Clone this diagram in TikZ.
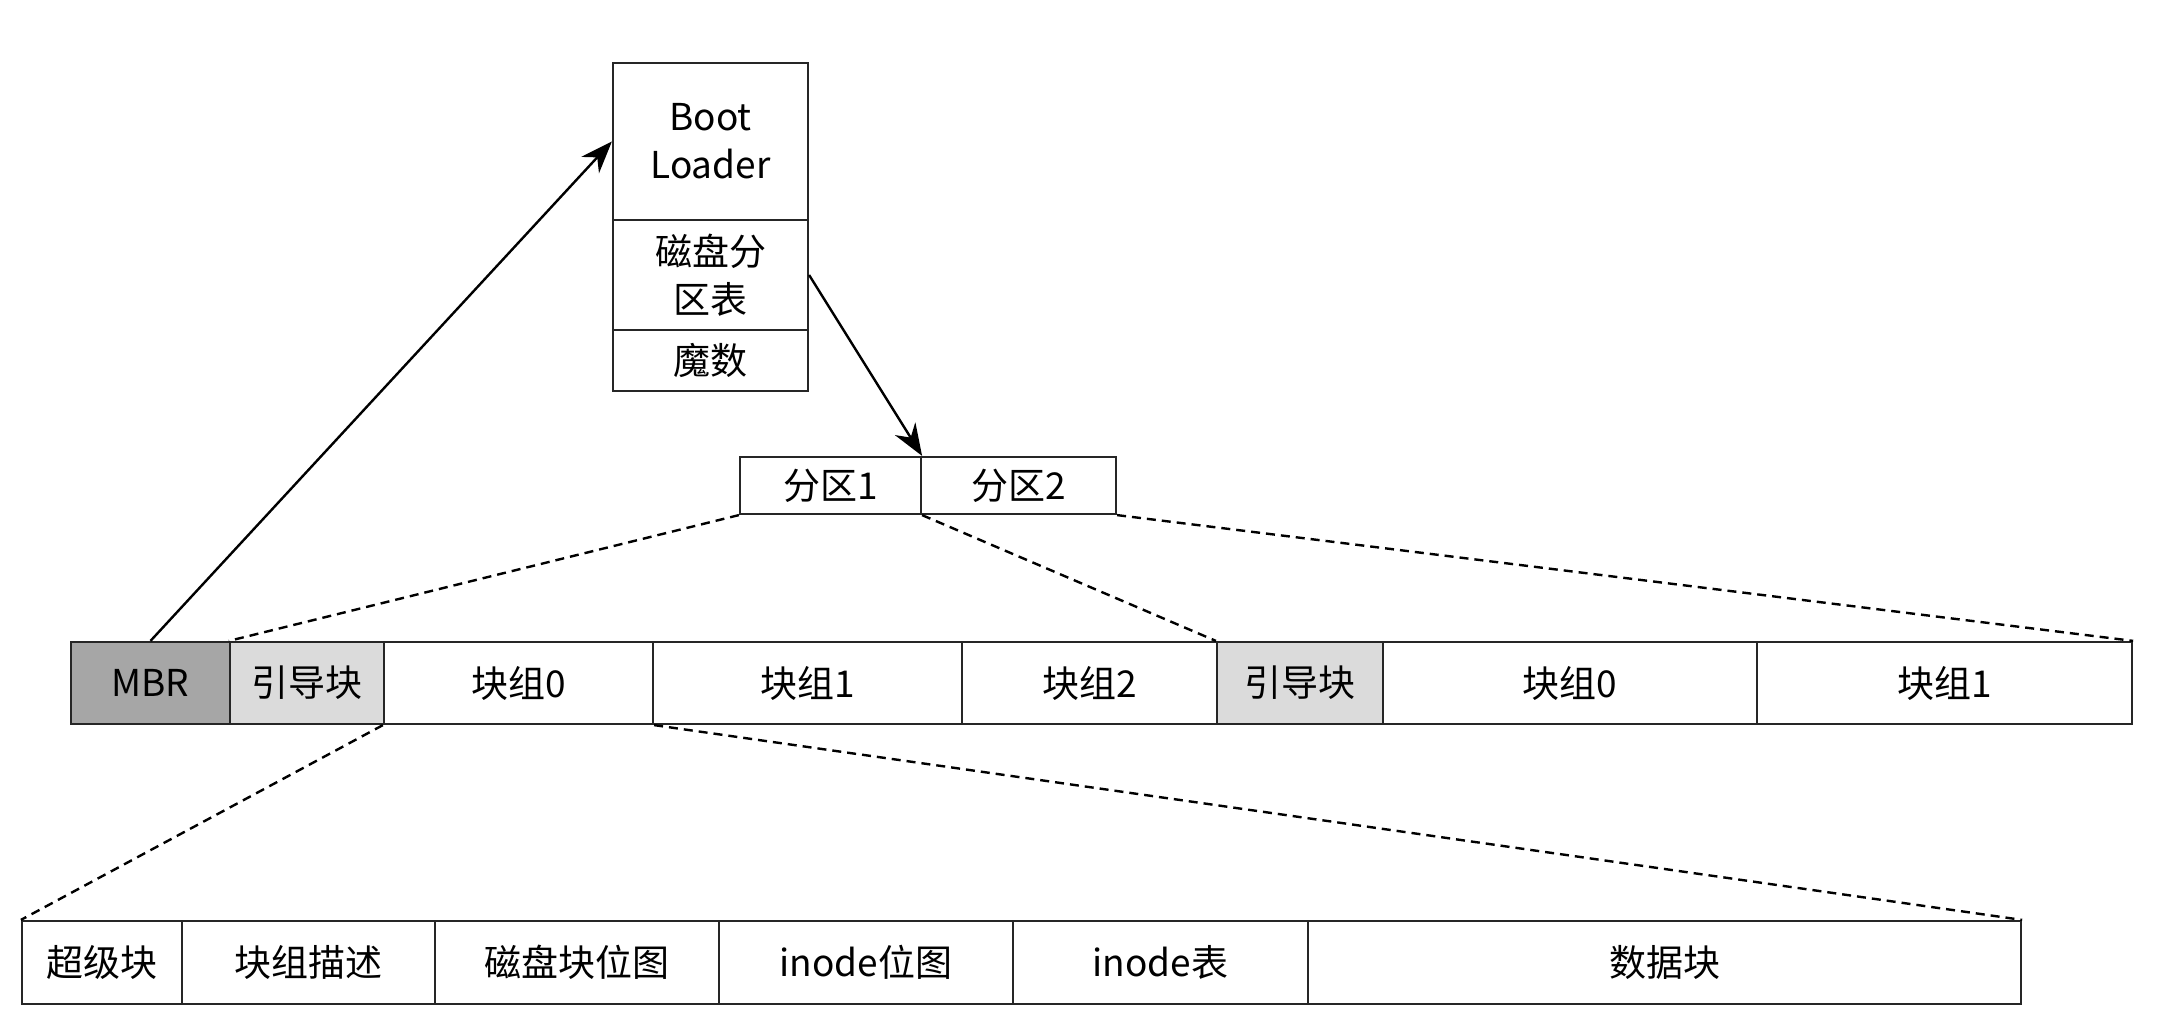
\documentclass[tikz,border=0pt]{standalone}
\usepackage{fontspec}
\setmainfont{Noto Sans CJK SC}
\usetikzlibrary{arrows.meta}
\tikzset{
  cellbox/.style={draw=black!85, line width=1.1pt, inner sep=0pt, font=\fontsize{18.5}{24}\selectfont, align=center},
  mbrfill/.style={fill=black!35},
  bootfill/.style={fill=black!14},
  dashline/.style={line width=1.2pt, dash pattern=on 4.5pt off 3pt},
  arrowline/.style={line width=1.2pt, -{Stealth[length=16pt,width=12pt]}}
}
\newcommand\mycell[7][]{%
  \node[cellbox,#1,minimum width={(#4-#3)*0.5pt},minimum height={(#6-#5)*0.5pt}] (#2) at ({(#3+#4)/2},{(#5+#6)/2}) {#7};}
\begin{document}
\begin{tikzpicture}[x=0.5pt,y=-0.5pt]
\useasboundingbox (0,0) rectangle (2184,1028);
% top box
\mycell{bl}{613}{808}{63}{220}{Boot\\Loader}
\mycell{pt}{613}{808}{220}{330}{磁盘分\\区表}
\mycell{mg}{613}{808}{330}{391}{魔数}
% partitions
\mycell{p1}{740}{921}{457}{514}{分区1}
\mycell{p2}{921}{1116}{457}{514}{分区2}
% middle row
\mycell[mbrfill]{mbr}{71}{230}{642}{724}{MBR}
\mycell[bootfill]{boot1}{230}{384}{642}{724}{引导块}
\mycell{g0}{384}{653}{642}{724}{块组0}
\mycell{g1}{653}{962}{642}{724}{块组1}
\mycell{g2}{962}{1217}{642}{724}{块组2}
\mycell[bootfill]{boot2}{1217}{1383}{642}{724}{引导块}
\mycell{g0b}{1383}{1757}{642}{724}{块组0}
\mycell{g1b}{1757}{2132}{642}{724}{块组1}
% bottom row
\mycell{sb}{22}{182}{921}{1004}{超级块}
\mycell{gd}{182}{435}{921}{1004}{块组描述}
\mycell{bbm}{435}{719}{921}{1004}{磁盘块位图}
\mycell{ibm}{719}{1013}{921}{1004}{inode位图}
\mycell{it}{1013}{1308}{921}{1004}{inode表}
\mycell{db}{1308}{2021}{921}{1004}{数据块}
% arrows
\draw[arrowline] (mbr.north) -- (bl.west);
\draw[arrowline] (pt.east) -- (p1.north east);
% dashed connectors
\draw[dashline] (p1.south west) -- (boot1.north west);
\draw[dashline] (p1.south east) -- (boot2.north west);
\draw[dashline] (p2.south east) -- (g1b.north east);
\draw[dashline] (g0.south west) -- (sb.north west);
\draw[dashline] (g0.south east) -- (db.north east);
\end{tikzpicture}
\end{document}
